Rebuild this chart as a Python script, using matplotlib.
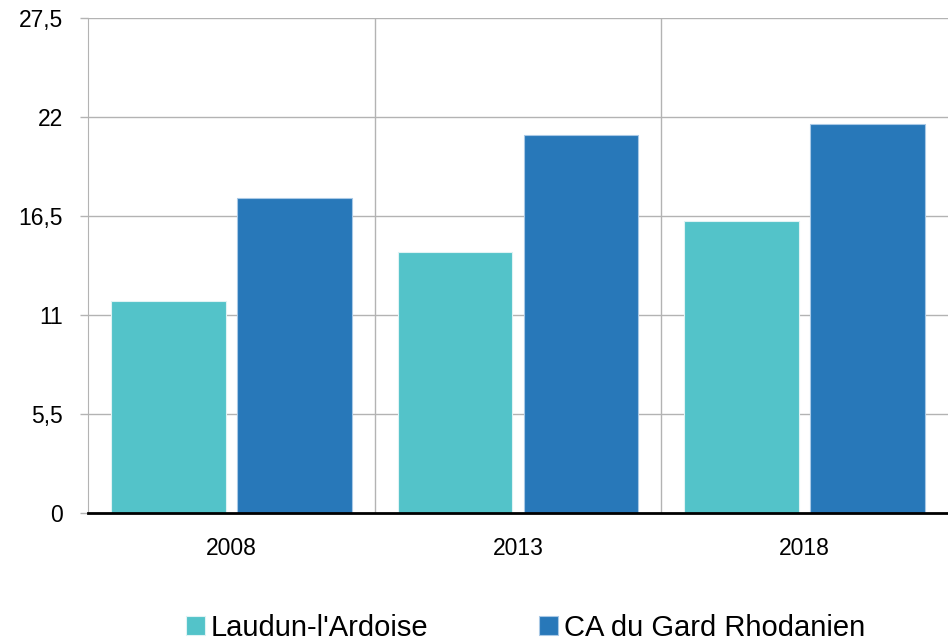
import matplotlib.pyplot as plt
import numpy as np

plt.rcParams['font.family'] = ['Liberation Sans', 'DejaVu Sans']

years = ['2008', '2013', '2018']
laudun = [11.8, 14.5, 16.2]
ca_gard = [17.5, 21.0, 21.6]
series_names = ["Laudun-l'Ardoise", 'CA du Gard Rhodanien']
y_ticks = [0, 5.5, 11, 16.5, 22, 27.5]
y_labels = ['0', '5,5', '11', '16,5', '22', '27,5']

fig = plt.figure(figsize=(9.48, 6.43), dpi=100)
ax = fig.add_axes([0.0928, 0.2022, 0.9072, 0.7698])

x = np.arange(len(years)) + 0.5
w = 0.4
ax.bar(x - 0.22, laudun, w, color='#53c3c9', edgecolor='#dff3f4', linewidth=0.8,
       label=series_names[0], zorder=3)
ax.bar(x + 0.22, ca_gard, w, color='#2878b9', edgecolor='#a9c9e6', linewidth=0.8,
       label=series_names[1], zorder=3)

ax.set_xlim(0, 3)
ax.set_ylim(0, 27.5)
ax.set_yticks(y_ticks)
ax.set_yticklabels(y_labels, fontsize=16.5)
ax.set_xticks(x)
ax.set_xticklabels(years, fontsize=16.5)
ax.set_xticks([1, 2], minor=True)

ax.grid(axis='y', color='#b3b3b3', linewidth=1, zorder=0)
ax.grid(axis='x', which='minor', color='#b3b3b3', linewidth=1, zorder=0)
ax.tick_params(axis='x', which='both', length=0, pad=17)
ax.tick_params(axis='y', length=6, color='#b3b3b3', width=1, pad=12)

for s in ['top', 'right']:
    ax.spines[s].set_visible(False)
ax.spines['left'].set_color('#b3b3b3')
ax.spines['bottom'].set_color('black')
ax.spines['bottom'].set_linewidth(2)
ax.spines['bottom'].set_zorder(4)

fig.legend(loc='center', bbox_to_anchor=(0.554, 0.024), ncol=2, frameon=False,
           fontsize=21, handlelength=0.65, handleheight=0.65, handletextpad=0.2,
           columnspacing=3.8)

fig.savefig('out.png', dpi=100)
